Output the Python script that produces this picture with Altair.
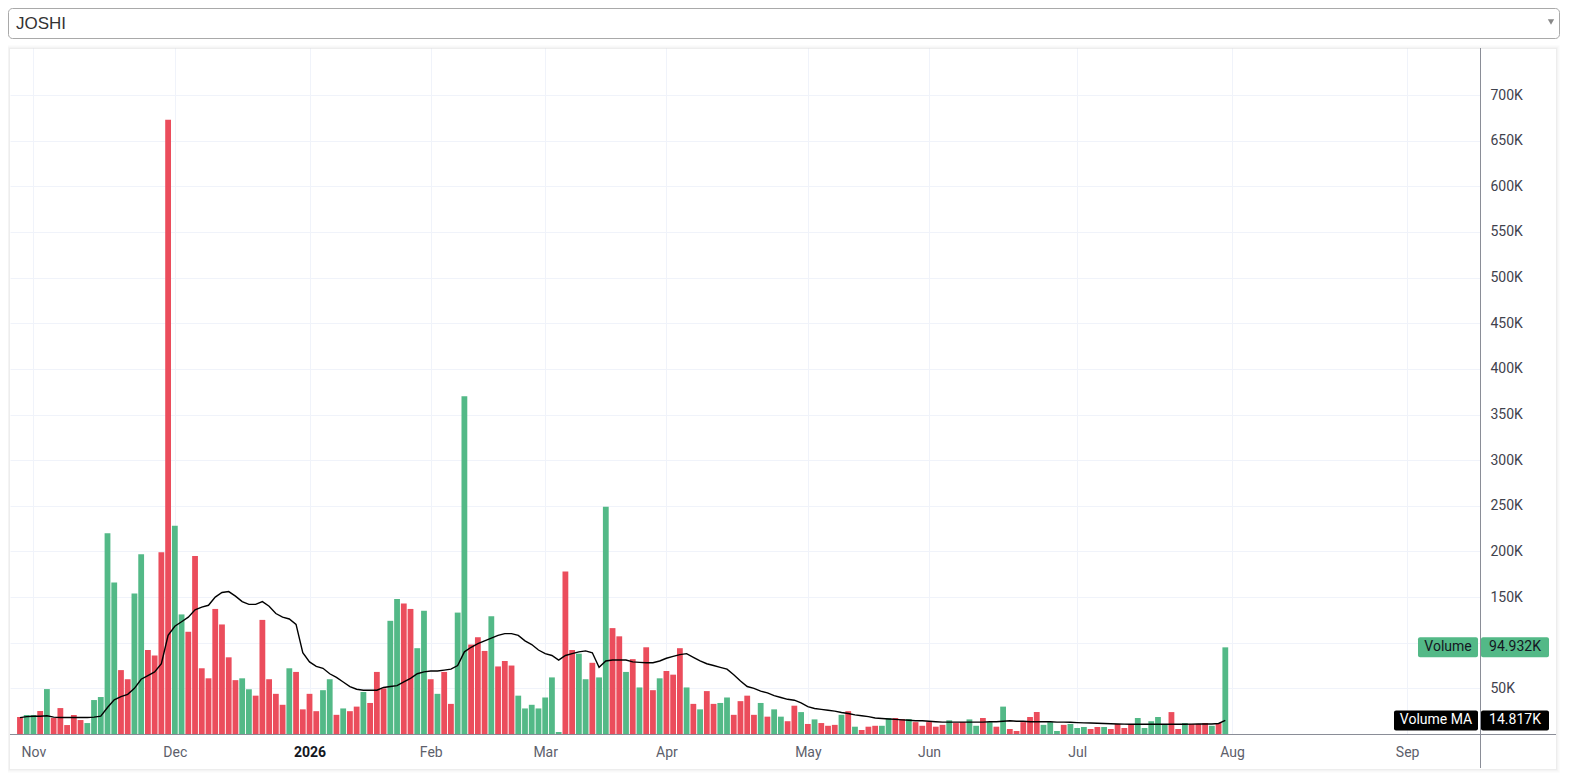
import altair as alt
import pandas as pd

# ---------------- data ----------------
SYMBOL = "JOSHI"

# daily volume, thousands of shares (one bar per trading session)
VOLUME_K = [
    18.6, 20.8, 20.8, 25.2, 49.2, 17.5, 28.4, 9.8, 20.8, 15.3,
    12.0, 37.2, 40.5, 220, 166, 70, 60, 154, 197, 92,
    86, 199, 673, 228, 131, 112, 195, 72, 61, 137,
    120, 84, 59, 61, 49, 42, 125, 60, 44, 32,
    72, 68, 27, 44, 25, 48, 60, 21, 28, 25,
    30, 46, 34, 68, 50, 124, 148, 143, 137, 94,
    135, 60, 44, 68, 33, 133, 370, 98, 106, 91,
    129, 74, 80, 75, 42, 28, 32, 28, 40, 62,
    2.2, 178, 92, 88, 60, 78, 62, 249, 116, 107,
    68, 82, 51, 95, 48, 61, 69, 65, 94, 51,
    33, 27, 47, 33, 34, 40, 21, 36, 42, 21,
    34, 19, 27, 19, 14, 31, 24, 11, 16, 12,
    9, 10, 21, 25, 8, 4.4, 8, 9, 9, 17.5,
    17.5, 16.4, 16.4, 13, 9, 13, 8, 10, 15, 12,
    13, 16, 9, 17.5, 13, 8, 30, 5.5, 3.3, 13,
    18.6, 24, 10, 13, 3.3, 10, 11, 6.6, 7.7, 5.5,
    7.7, 7.7, 5.5, 11, 6.6, 11, 17.5, 6.6, 14, 18.6,
    11, 24, 5.5, 12, 11, 11, 12, 9, 12, 94.932,
]

# session direction: g = close up (green bar), r = close down (red bar)
DIRECTION = list(
    "rggrgrrrrr" "gggggrrggr" "rrrggrrrrr" "rrrggrrrrr"
    "grrrrggrgr" "rgrrrggrrg" "grgrrggrrr" "grrrgggggg"
    "grrggrggrr" "grgrrgrrrg" "rgrrggrrrr" "grggrrgrgr"
    "rrgrgrrrgg" "rrgrrrrrgr" "rggrgrgrrr" "rrgggrgggr"
    "rgrrrrgggg" "grrgrrrgrg"
)

# volume moving average, thousands (read at every bar)
VOLUME_MA_K = [
    18, 19, 19.5, 19.5, 20, 18.5, 18, 18, 18, 18,
    18, 18.5, 19.5, 29, 37.5, 41, 43.5, 50, 60, 64,
    68, 77, 108, 118, 123, 128, 136, 139, 141, 150,
    155, 156, 151, 145, 142, 142, 145, 140, 132, 128,
    126, 120, 89, 79, 74, 72, 66, 62, 57, 52,
    49, 48, 48, 48, 51, 52, 53, 57, 61, 66,
    68, 69, 69, 70, 71, 75, 90, 95, 99, 102,
    105, 108, 110, 110, 108, 102, 98, 92, 88, 86,
    81, 86, 88, 90, 91, 89, 73, 80, 81, 81,
    81, 79, 78.5, 78, 78, 80, 83, 85, 87, 88,
    84, 80, 77, 75, 73, 71, 65, 58, 52, 50,
    47, 45, 42, 40, 38, 37, 34, 30, 28, 27,
    26, 25, 23.5, 22.5, 21, 20, 19, 17.5, 17, 16.5,
    16, 15.5, 15, 14.5, 14.5, 14, 13.5, 13, 13, 13,
    13, 13, 13, 13, 13.5, 13.5, 14, 14.5, 14, 14,
    13.5, 13.5, 13.5, 13.5, 13, 13, 12.8, 12.5, 12.2, 12,
    11.8, 11.5, 11.2, 11, 10.8, 10.6, 10.6, 10.6, 10.6, 10.6,
    10.6, 10.6, 10.6, 10.6, 10.8, 11, 11, 11, 11.5, 14.817,
]

# month boundaries: session number of the first bar of each month
MONTH_SESSION = [2, 23, 43, 61, 78, 96, 117, 135, 157, 180, 206]
MONTH_LABELS = ["Nov", "Dec", "2026", "Feb", "Mar", "Apr", "May", "Jun", "Jul", "Aug", "Sep"]

Y_TICKS_K = list(range(50, 701, 50))
HIDDEN_Y_LABEL_K = 100   # covered by the last-value tag in the reference

LAST_VOLUME = 94932
LAST_MA = 14817

# ---------------- styling ----------------
GREEN = "#53b987"
RED = "#eb4d5c"
GRID = "#f0f3fa"
AXIS_LINE = "#8a8d97"
FONT = "Roboto"

bars = pd.DataFrame({
    "session": list(range(len(VOLUME_K))),
    "volume": [v * 1000 for v in VOLUME_K],
    "dir": ["up" if d == "g" else "down" for d in DIRECTION],
})
ma = pd.DataFrame({
    "session": list(range(len(VOLUME_MA_K))),
    "ma": [v * 1000 for v in VOLUME_MA_K],
})

W, H = 1470, 686
RIGHT = 1550  # right edge of the card in plot coordinates

x_scale = alt.Scale(domain=[-0.737, 216.08], nice=False, zero=False)
y_scale = alt.Scale(domain=[0, 751500], nice=False, zero=True)

label_expr = " : ".join(
    f"datum.value == {p} ? '{n}'" for p, n in zip(MONTH_SESSION, MONTH_LABELS)
) + " : ''"
year_pos = MONTH_SESSION[MONTH_LABELS.index("2026")]

x_axis = alt.Axis(
    values=MONTH_SESSION, labelExpr=label_expr, title=None,
    grid=True, gridColor=GRID, gridWidth=1,
    domain=False, ticks=False, tickSize=0, labelPadding=11,
    labelFont=FONT, labelFontSize=14,
    labelColor={"condition": {"test": f"datum.value == {year_pos}", "value": "#131722"}, "value": "#5d606b"},
    labelFontWeight={"condition": {"test": f"datum.value == {year_pos}", "value": "bold"}, "value": "normal"},
    labelFlush=False, labelOverlap=False, labelBound=False,
)
y_axis = alt.Axis(
    orient="right", values=[v * 1000 for v in Y_TICKS_K],
    labelExpr=f"datum.value == {HIDDEN_Y_LABEL_K * 1000} ? '' : format(datum.value / 1000, 'd') + 'K'",
    title=None,
    grid=True, gridColor=GRID, gridWidth=1,
    domain=False, ticks=False, tickSize=0, labelPadding=10,
    labelFont=FONT, labelFontSize=14, labelColor="#3f424d",
    labelOverlap=False, labelFlush=False, labelBound=False,
)

bar_layer = alt.Chart(bars).mark_bar(width=5.8).encode(
    x=alt.X("session:Q", scale=x_scale, axis=x_axis),
    y=alt.Y("volume:Q", scale=y_scale, axis=y_axis),
    color=alt.Color("dir:N", scale=alt.Scale(domain=["up", "down"], range=[GREEN, RED]), legend=None),
)

ma_layer = alt.Chart(ma).mark_line(color="#000000", strokeWidth=1.4).encode(
    x=alt.X("session:Q"),
    y=alt.Y("ma:Q"),
)

one = pd.DataFrame({"k": [0]})

# card shadow (page card spans the plot + price scale)
shadows = []
for off, op in [(1, 0.07), (2, 0.045), (3, 0.025), (4, 0.012)]:
    shadows.append(
        alt.Chart(one).mark_rect(fill=None, stroke="#000000", strokeOpacity=op, strokeWidth=1).encode(
            x=alt.value(-off + 0.5), x2=alt.value(RIGHT - 4 + off - 0.5),
            y=alt.value(-off + 1.5), y2=alt.value(720 + off + 0.5),
        )
    )

# symbol selector above the chart
select_box = alt.Chart(one).mark_rect(
    fill="#ffffff", stroke="#a9a9a9", strokeWidth=1, cornerRadius=4
).encode(x=alt.value(-1.5), x2=alt.value(RIGHT - 0.5), y=alt.value(-39.5), y2=alt.value(-9.5))
select_text = alt.Chart(pd.DataFrame({"t": [SYMBOL]})).mark_text(
    align="left", baseline="alphabetic", font="Liberation Sans", fontSize=17, color="#333333"
).encode(x=alt.value(6), y=alt.value(-19), text="t:N")
select_arrow = alt.Chart(one).mark_point(
    shape="triangle-down", filled=True, color="#888888", size=40, opacity=1
).encode(x=alt.value(RIGHT - 9), y=alt.value(-26))

# axis lines of the pane
h_line = alt.Chart(one).mark_rule(color=AXIS_LINE, strokeWidth=1).encode(
    x=alt.value(0), x2=alt.value(RIGHT - 4), y=alt.value(686.5)
)
v_line = alt.Chart(one).mark_rule(color=AXIS_LINE, strokeWidth=1).encode(
    x=alt.value(1470.5), y=alt.value(0), y2=alt.value(720)
)

# last value tags on the price scale
tags = pd.DataFrame({
    "v": [LAST_VOLUME, LAST_MA],
    "name": ["Volume", "Volume MA"],
    "val": [f"{LAST_VOLUME / 1000:.3f}K", f"{LAST_MA / 1000:.3f}K"],
    "bg": [GREEN, "#000000"],
    "fg": ["#131722", "#ffffff"],
    "nx": [1408, 1384],
    "nc": [1438, 1426],
})

tag_name_box = alt.Chart(tags).mark_rect(cornerRadius=2, yOffset=-10, y2Offset=10).encode(
    x=alt.X("nx:Q", scale=None), x2=alt.value(1468),
    y=alt.Y("v:Q"), y2=alt.Y2("v:Q"),
    color=alt.Color("bg:N", scale=None),
)
tag_val_box = alt.Chart(tags).mark_rect(cornerRadius=2, yOffset=-10, y2Offset=10).encode(
    x=alt.value(1471), x2=alt.value(1539),
    y=alt.Y("v:Q"), y2=alt.Y2("v:Q"),
    color=alt.Color("bg:N", scale=None),
)
tag_name_text = alt.Chart(tags).mark_text(
    align="center", baseline="middle", font=FONT, fontSize=14
).encode(
    x=alt.X("nc:Q", scale=None), y=alt.Y("v:Q"), text="name:N",
    color=alt.Color("fg:N", scale=None),
)
tag_val_text = alt.Chart(tags).mark_text(
    align="center", baseline="middle", font=FONT, fontSize=14
).encode(
    x=alt.value(1505), y=alt.Y("v:Q"), text="val:N",
    color=alt.Color("fg:N", scale=None),
)

chart = alt.layer(
    *shadows, bar_layer, ma_layer, h_line, v_line,
    select_box, select_text, select_arrow,
    tag_name_box, tag_val_box, tag_name_text, tag_val_text,
).properties(
    width=W, height=H,
    padding={"left": 2, "top": 40, "right": 82, "bottom": 42},
    autosize=alt.AutoSizeParams(type="none"),
    background="#ffffff",
).configure_view(stroke=None)

chart.save("out.html", embed_options={"renderer": "svg", "actions": False})
